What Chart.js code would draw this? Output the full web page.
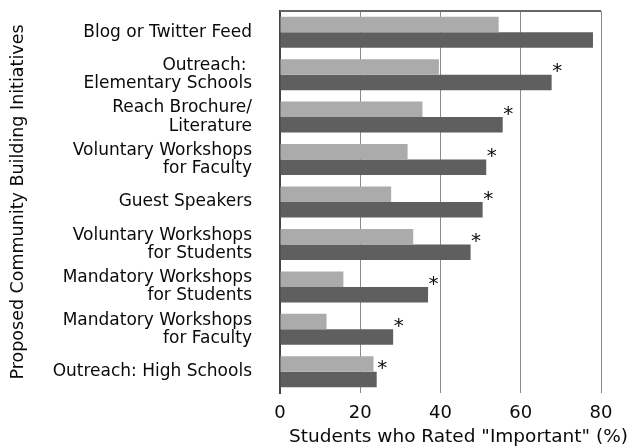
<!DOCTYPE html>
<html>
<head>
<meta charset="utf-8">
<script src="https://cdn.jsdelivr.net/npm/chart.js@4"></script>
<style>
  html, body { margin: 0; padding: 0; background: #fff; }
</style>
</head>
<body>
<canvas id="chart" width="631" height="447"></canvas>
<script>
const initiatives = [
  'Blog or Twitter Feed',
  ['Outreach: ', 'Elementary Schools'],
  ['Reach Brochure/', 'Literature'],
  ['Voluntary Workshops', 'for Faculty'],
  'Guest Speakers',
  ['Voluntary Workshops', 'for Students'],
  ['Mandatory Workshops', 'for Students'],
  ['Mandatory Workshops', 'for Faculty'],
  'Outreach: High Schools',
];

const lightValues = [54.5, 39.6, 35.5, 31.8, 27.7, 33.2, 15.8, 11.6, 23.3];
const darkValues = [78.0, 67.7, 55.5, 51.4, 50.5, 47.5, 36.9, 28.2, 24.1];
const significant = [false, true, true, true, true, true, true, true, true];

const xTicks = [0, 20, 40, 60, 80];

const FONT = 'DejaVu Sans';
const TEXT = '#0a0a0a';

// asterisks next to the significant dark bars, plus the top frame line and x title
const extras = {
  id: 'extras',
  afterDraw(chart) {
    const { ctx, chartArea, scales } = chart;
    ctx.save();

    ctx.strokeStyle = '#666';
    ctx.lineWidth = 2;
    ctx.beginPath();
    ctx.moveTo(chartArea.left, chartArea.top);
    ctx.lineTo(chartArea.right, chartArea.top);
    ctx.stroke();

    ctx.fillStyle = TEXT;
    ctx.font = `20px "${FONT}"`;
    ctx.textAlign = 'left';
    ctx.textBaseline = 'middle';
    darkValues.forEach((v, i) => {
      if (!significant[i]) return;
      const x = scales.x.getPixelForValue(v);
      const y = scales.y.getPixelForValue(i);
      ctx.fillText('*', x + 0.5, y - 2.5);
    });

    ctx.font = `18.5px "${FONT}"`;
    ctx.textAlign = 'right';
    ctx.textBaseline = 'alphabetic';
    ctx.fillText('Students who Rated "Important" (%)', 628, 442);
    ctx.restore();
  },
};

new Chart(document.getElementById('chart'), {
  type: 'bar',
  data: {
    labels: initiatives,
    datasets: [
      {
        label: 'light',
        data: lightValues,
        backgroundColor: '#ababab',
        categoryPercentage: 0.73,
        barPercentage: 1.0,
      },
      {
        label: 'dark',
        data: darkValues,
        backgroundColor: '#5f5f5f',
        categoryPercentage: 0.73,
        barPercentage: 1.0,
      },
    ],
  },
  plugins: [extras],
  options: {
    indexAxis: 'y',
    responsive: false,
    animation: false,
    layout: { padding: { top: 11, right: 30, left: 0, bottom: 0 } },
    plugins: {
      legend: { display: false },
      tooltip: { enabled: false },
    },
    scales: {
      x: {
        min: 0,
        max: 80,
        afterBuildTicks: (scale) => {
          scale.ticks = xTicks.map((v) => ({ value: v }));
        },
        afterFit: (scale) => {
          scale.height = 54;
          scale.paddingLeft = 0;
          scale.paddingRight = 0;
        },
        grid: {
          color: '#8a8a8a',
          lineWidth: 1,
          drawTicks: false,
        },
        border: { display: false },
        ticks: {
          color: TEXT,
          padding: 10,
          font: { family: FONT, size: 18 },
        },
      },
      y: {
        afterFit: (scale) => {
          scale.width = 280;
          scale.paddingTop = 0;
          scale.paddingBottom = 0;
        },
        grid: { display: false, drawTicks: false },
        border: { display: true, color: '#444', width: 2 },
        ticks: {
          autoSkip: false,
          color: TEXT,
          padding: 28,
          font: { family: FONT, size: 17, lineHeight: 1.08 },
        },
        title: {
          display: true,
          text: 'Proposed Community Building Initiatives',
          color: TEXT,
          padding: { top: 8, bottom: 0 },
          font: { family: FONT, size: 17.5 },
        },
      },
    },
  },
});
</script>
</body>
</html>
